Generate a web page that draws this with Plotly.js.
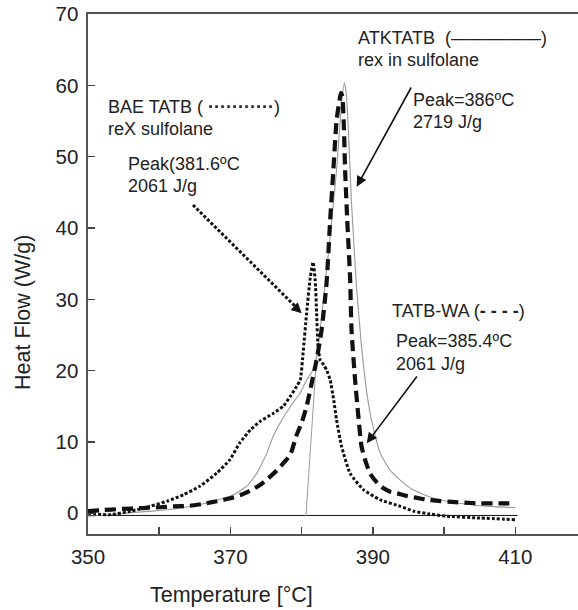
<!DOCTYPE html>
<html>
<head>
<meta charset="utf-8">
<script src="https://cdn.plot.ly/plotly-3.0.1.min.js"></script>
<style>html,body{margin:0;padding:0;background:#fff;}#chart{width:578px;height:610px;}</style>
</head>
<body>
<div id="chart"></div>
<script>
// ATK TATB rex in sulfolane (thin solid)
const atkX = [350, 353, 356, 359, 362, 365, 368, 370.4, 372.3, 373.7, 375.1, 376, 377.4, 378.8, 379.8, 380.7, 381.6, 382.1, 382.6, 383.3, 384.0, 384.9, 385.6, 386.0, 386.3, 386.6, 387.0, 387.7, 388.4, 389.0, 389.6, 390.3, 391.0, 392.3, 393.8, 395.6, 398, 400.4, 403, 405, 407.5, 410];
const atkY = [-0.4, -0.2, 0.1, 0.3, 0.6, 1.1, 1.8, 2.6, 3.8, 5.6, 8.4, 10.8, 13.4, 15.5, 16.9, 18.7, 20.1, 22.0, 25.7, 32.2, 38.8, 48.1, 57.5, 60.4, 58.5, 52.8, 43.5, 31.8, 23.4, 18.0, 14.1, 11.0, 8.5, 6.2, 4.7, 3.3, 2.3, 1.7, 1.3, 1.06, 0.9, 0.8];

// TATB-WA (thick dashed)
const waX = [350, 352, 354.5, 357.7, 360, 362, 364.3, 366, 368.1, 370, 371.5, 373, 374.2, 375.3, 376.5, 377.5, 378.4, 379.3, 380, 380.7, 381.2, 382.1, 382.8, 383.5, 384.0, 384.45, 384.9, 385.3, 385.5, 385.7, 385.9, 386.1, 386.4, 386.8, 387.0, 387.5, 387.96, 388.4, 389.0, 389.6, 390.5, 391.5, 392.5, 393.4, 394.5, 396, 397.6, 399.5, 401.1, 404.6, 408.1, 410];
const waY = [0.3, 0.45, 0.6, 0.74, 0.85, 0.97, 1.06, 1.3, 1.7, 2.1, 2.6, 3.3, 4.0, 4.9, 6.0, 7.1, 8.2, 11.0, 12.7, 15.0, 17.3, 21.5, 25.7, 32.3, 41.1, 48.1, 55.1, 57.8, 58.9, 58.5, 55.1, 48.1, 41.1, 33.0, 25.7, 18.7, 13.6, 9.4, 7.2, 5.6, 4.4, 3.5, 3.0, 2.8, 2.5, 2.2, 1.9, 1.7, 1.6, 1.4, 1.4, 1.4];

// BAE TATB reX sulfolane (dotted)
const baeX = [350, 353, 356, 358.7, 361.1, 363.4, 365.7, 368.1, 369.9, 371.3, 372.8, 374.2, 376, 377.4, 378.4, 379.3, 379.8, 380.2, 380.7, 381.2, 381.6, 381.9, 382.1, 382.3, 382.6, 383.1, 383.5, 384.0, 384.5, 384.9, 385.6, 386.8, 388.7, 391, 393.8, 395.7, 398, 400.4, 405, 410];
const baeY = [0, -0.2, 0.3, 0.97, 1.7, 2.6, 3.8, 5.65, 7.5, 9.85, 11.7, 12.9, 14.0, 15.0, 16.4, 17.8, 18.7, 22.5, 28.1, 33.0, 35.2, 32.7, 28.1, 23.4, 21.5, 20.8, 20.1, 18.7, 15.9, 13.1, 9.4, 5.6, 3.3, 1.9, 1.0, 0.3, -0.1, -0.4, -0.66, -0.9];

// baseline and onset tangent
const baseX = [350, 410.3];
const baseY = [-0.3, -0.3];
const tanX = [380.6, 382.1];
const tanY = [-0.4, 22.0];

const xTicks = [350, 360, 370, 380, 390, 400, 410];
const xTickText = ['350', '', '370', '', '390', '', '410'];
const yTicks = [0, 10, 20, 30, 40, 50, 60, 70];
const yTickText = ['0', '10', '20', '30', '40', '50', '60', '70'];

const FONT = 'Liberation Sans, Arial, sans-serif';
const TXT = '#222';

// plot frame in pixels
const L = 88, R = 578, T = 14, B = 534;
const XR = [350, 418.8], YR = [-2.9, 70];
const dx = px => XR[0] + (px - L) * (XR[1] - XR[0]) / (R - L);
const dy = py => YR[1] - (py - T) * (YR[1] - YR[0]) / (B - T);
const pxp = px => (px - L) / (R - L);
const pyp = py => (B - py) / (B - T);

const traces = [
  {x: baseX, y: baseY, mode: 'lines', line: {color: '#111', width: 1}, hoverinfo: 'skip'},
  {x: tanX, y: tanY, mode: 'lines', line: {color: '#999', width: 1}, hoverinfo: 'skip'},
  {x: atkX, y: atkY, mode: 'lines', line: {color: '#999', width: 1.1, shape: 'spline', smoothing: 0.4}, name: 'ATKTATB'},
  {x: baeX, y: baeY, mode: 'lines', line: {color: '#111', width: 3, dash: '3px,2px', shape: 'spline', smoothing: 0.5}, name: 'BAE TATB'},
  {x: waX, y: waY, mode: 'lines', line: {color: '#111', width: 4.2, dash: '11px,6px', shape: 'spline', smoothing: 0.5}, name: 'TATB-WA'}
];

function txt(text, px, py) {
  return {text: text, xref: 'paper', yref: 'paper', x: pxp(px), y: pyp(py),
    xanchor: 'left', yanchor: 'middle', showarrow: false,
    font: {family: FONT, size: 18, color: TXT}};
}
function arrow(hx, hy, tx, ty) {
  return {text: '', x: dx(hx), y: dy(hy), ax: dx(tx), ay: dy(ty), axref: 'x', ayref: 'y',
    xref: 'x', yref: 'y', showarrow: true, arrowhead: 2, arrowsize: 1.3, arrowwidth: 1.6,
    arrowcolor: '#111', standoff: 0};
}

const annotations = [
  txt('ATKTATB  (—————)', 356, 38),
  txt('rex in sulfolane', 356, 60),
  txt('Peak=386ºC', 411, 100),
  txt('2719 J/g', 411, 122),
  txt('BAE TATB ( <b>···········</b>)', 106, 107),
  txt('reX sulfolane', 106, 129),
  txt('Peak(381.6ºC', 126, 164),
  txt('2061 J/g', 126, 186),
  txt('TATB-WA (<b>- - - -</b>)', 390, 311),
  txt('Peak=385.4ºC', 394, 341),
  txt('2061 J/g', 394, 364),
  arrow(356.7, 186.7, 412, 86),
  arrow(366.7, 443.3, 418, 375),
  arrow(301.7, 313.3, 293, 305),
  {text: 'Temperature [°C]', xref: 'paper', yref: 'paper', x: pxp(231), y: pyp(595),
    xanchor: 'center', yanchor: 'middle', showarrow: false, font: {family: FONT, size: 21.5, color: TXT}},
  {text: 'Heat Flow (W/g)', xref: 'paper', yref: 'paper', x: pxp(23), y: pyp(313),
    xanchor: 'center', yanchor: 'middle', textangle: -90, showarrow: false, font: {family: FONT, size: 21.5, color: TXT}}
];

const shapes = [
  {type: 'line', xref: 'x', yref: 'y', x0: dx(193), y0: dy(205), x1: dx(298), y1: dy(309),
    line: {color: '#111', width: 3, dash: '3px,2px'}}
];

const layout = {
  width: 578, height: 610,
  margin: {l: L, r: 578 - R, t: T, b: 610 - B, pad: 0},
  paper_bgcolor: '#fff', plot_bgcolor: '#fff',
  showlegend: false,
  font: {family: FONT, color: TXT},
  xaxis: {range: XR, tickvals: xTicks, ticktext: xTickText, ticks: 'inside', ticklen: 7, tickwidth: 1.5,
    tickcolor: '#444', showline: true, linecolor: '#555', linewidth: 1.6, mirror: true,
    showgrid: false, zeroline: false, tickfont: {family: FONT, size: 20.5, color: TXT}, ticklabelstandoff: 4},
  yaxis: {range: YR, tickvals: yTicks, ticktext: yTickText, ticks: 'inside', ticklen: 7, tickwidth: 1.5,
    tickcolor: '#444', showline: true, linecolor: '#555', linewidth: 1.6,
    showgrid: false, zeroline: false, tickfont: {family: FONT, size: 20.5, color: TXT}, ticklabelstandoff: 4},
  annotations: annotations,
  shapes: shapes
};

Plotly.newPlot('chart', traces, layout, {staticPlot: true, displayModeBar: false});
</script>
</body>
</html>
